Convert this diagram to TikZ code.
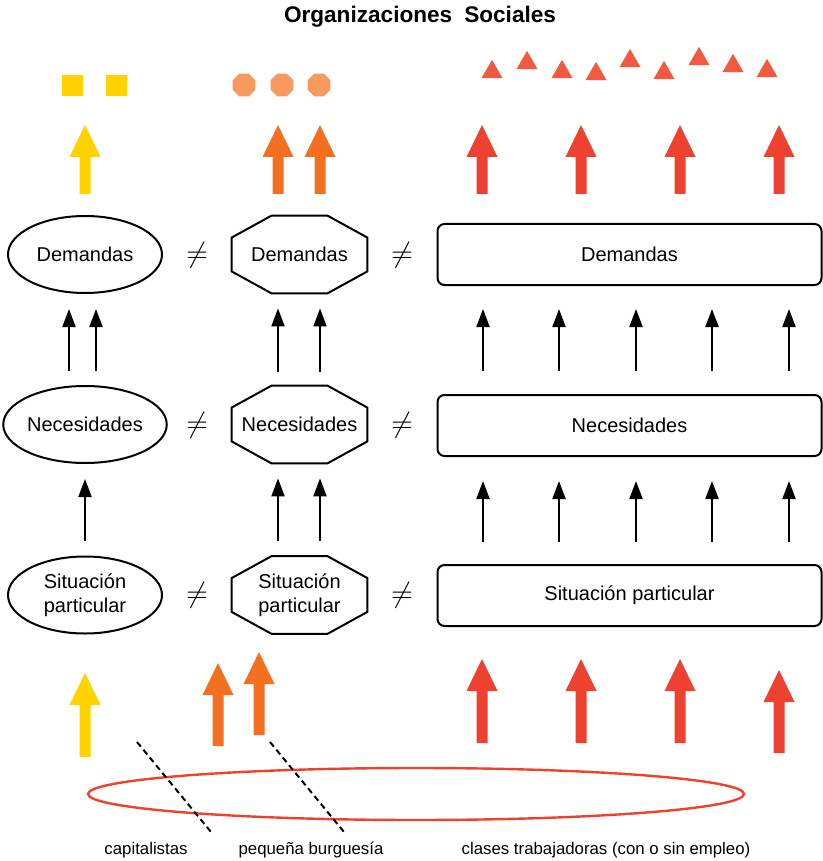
\documentclass[tikz,border=0pt]{standalone}
\usepackage{fontspec}
\setmainfont{Liberation Sans}
\usetikzlibrary{arrows.meta,shapes.geometric,calc}
\definecolor{amarillo}{HTML}{FFD200}
\definecolor{naranja}{HTML}{F37021}
\definecolor{naranjaclaro}{HTML}{F79A5E}
\definecolor{rojo}{HTML}{EF4130}
\definecolor{rojoclaro}{HTML}{F15A40}
\tikzset{
  texto/.style={font=\fontsize{10}{12}\selectfont, align=center, inner sep=0pt},
  elipse/.style={texto, draw, line width=1pt, ellipse, minimum width=77pt, minimum height=38.5pt},
  octo/.style={texto, minimum width=67.5pt, minimum height=38.5pt},
  caja/.style={texto, draw, line width=1pt, rounded corners=3.5pt, minimum width=192pt, minimum height=30.5pt},
  distinto/.style={font=\fontsize{14.8}{15}\selectfont, inner sep=0pt},
  etiqueta/.style={font=\fontsize{8.4}{10}\selectfont, inner sep=0pt},
  cuadro/.style={fill=amarillo, minimum size=10.5pt, inner sep=0pt},
  octito/.style={fill=naranjaclaro, regular polygon, regular polygon sides=8, minimum size=12.4pt, inner sep=0pt},
  triangulo/.style={fill=rojoclaro, regular polygon, regular polygon sides=3, minimum size=12.1pt, inner sep=0pt},
}
% octagono alrededor de un nodo
\newcommand\octagono[1]{%
\draw[line width=1pt] ($(#1.north west)+(20pt,0)$) -- ($(#1.north east)+(-20pt,0)$) -- ($(#1.north east)+(0,-11pt)$) -- ($(#1.south east)+(0,11pt)$) -- ($(#1.south east)+(-20pt,0)$) -- ($(#1.south west)+(20pt,0)$) -- ($(#1.south west)+(0,11pt)$) -- ($(#1.north west)+(0,-11pt)$) -- cycle;}
% flecha gruesa: color, x, punta, base
\newcommand\gorda[4]{%
\fill[#1] (#2,#3) -- ++(15.5,32) -- ++(-10,0) -- ({#2+5.5},#4) -- ({#2-5.5},#4) -- ({#2-5.5},{#3+32}) -- ++(-10,0) -- cycle;}
\begin{document}
\begin{tikzpicture}[x=0.5pt, y=-0.5pt, >={Triangle[length=9pt,width=6.5pt]}]
\useasboundingbox (0,0) rectangle (823,861);
\node[font=\fontsize{11.3}{13}\selectfont\bfseries] (titulo) at (420,17) {Organizaciones\hspace{6pt}Sociales};
% figuras de arriba
\node[cuadro] (c1) at (72,86) {};
\node[cuadro] (c2) at (116,86) {};
\foreach \x [count=\i] in {244,282,319}
  \node[octito] (o\i) at (\x,85) {};
\foreach \x/\y [count=\i] in {492/72,527/63,562/72,596/74,630/61,664/73,699/59,733/66,767/71}
  \node[triangulo] (t\i) at (\x,\y) {};
% flechas gruesas de arriba
\gorda{amarillo}{85}{125}{194}
\foreach \x in {278,320} \gorda{naranja}{\x}{125}{194};
\foreach \x in {482,581,680,779} \gorda{rojo}{\x}{125}{194};
% columnas
\node[elipse] (dem1) at (85,254.5) {Demandas};
\node[elipse] (nec1) at (85,424.5) {Necesidades};
\node[elipse] (sit1) at (85,595) {Situación\\particular};
\node[octo] (dem2) at (299.5,254.5) {Demandas};
\node[octo] (nec2) at (299.5,424.5) {Necesidades};
\node[octo] (sit2) at (299.5,595) {Situación\\particular};
\octagono{dem2}
\octagono{nec2}
\octagono{sit2}
\node[caja] (dem3) at (629.5,254.5) {Demandas};
\node[caja] (nec3) at (629.5,425.5) {Necesidades};
\node[caja] (sit3) at (629.5,595.5) {Situación particular};
\foreach \y/\f in {255/dem,425/nec,595/sit} {
  \node[distinto] (\f-a) at (197,\y) {$\neq$};
  \node[distinto] (\f-b) at (402,\y) {$\neq$};
}
% flechas negras
\foreach \x in {69,96} \draw[line width=1pt, ->, shorten <=7pt, shorten >=7.5pt] (nec1.north -| \x,0) -- (dem1.south -| \x,0);
\draw[line width=1pt, ->, shorten <=7.5pt, shorten >=7.5pt] (sit1) -- (nec1);
\foreach \x in {278,320} {
  \draw[line width=1pt, ->, shorten <=7pt, shorten >=7.5pt] (nec2.north -| \x,0) -- (dem2.south -| \x,0);
  \draw[line width=1pt, ->, shorten <=7.5pt, shorten >=7.5pt] (sit2.north -| \x,0) -- (nec2.south -| \x,0);
}
\foreach \x in {483,559,636,712,789} {
  \draw[line width=1pt, ->, shorten <=11.5pt, shorten >=11.5pt] (nec3.north -| \x,0) -- (dem3.south -| \x,0);
  \draw[line width=1pt, ->, shorten <=11pt, shorten >=12pt] (sit3.north -| \x,0) -- (nec3.south -| \x,0);
}
% flechas gruesas de abajo
\gorda{amarillo}{85}{673}{757}
\gorda{naranja}{218}{663}{746}
\gorda{naranja}{259}{652}{735}
\foreach \x in {482,581,680} \gorda{rojo}{\x}{659}{743};
\gorda{rojo}{779}{670}{753}
% clases
\node[draw=rojo, line width=1.2pt, ellipse, minimum width=328pt, minimum height=26pt, inner sep=0pt] (clases) at (416,794) {};
\draw[line width=1pt, dash pattern=on 3pt off 2pt] (137,742) -- (211,832);
\draw[line width=1pt, dash pattern=on 3pt off 2pt] (270,742) -- (344,832);
\node[etiqueta] (capi) at (146,850) {capitalistas};
\node[etiqueta] (pequ) at (311,850) {pequeña burguesía};
\node[etiqueta] (trab) at (606,850) {clases trabajadoras (con o sin empleo)};
\end{tikzpicture}
\end{document}
